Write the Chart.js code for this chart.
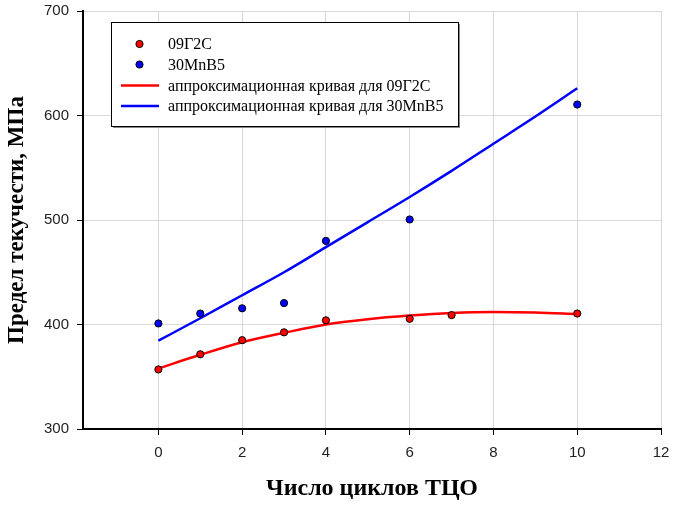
<!DOCTYPE html>
<html>
<head>
<meta charset="utf-8">
<script src="https://cdn.jsdelivr.net/npm/chart.js@4"></script>
<style>
html,body{margin:0;padding:0;background:#fff;}
canvas{display:block;}
</style>
</head>
<body>
<canvas id="c" width="673" height="506"></canvas>
<script>
// Measured points
const cyclesRed = [0, 1, 2, 3, 4, 6, 7, 10];
const stressRed = [357, 371.5, 385, 392.5, 404, 405.5, 409, 410.5];
const cyclesBlue = [0, 1, 2, 3, 4, 6, 10];
const stressBlue = [401, 410.5, 415.5, 420.5, 480, 500.5, 610.5];
// Approximation curves
const fitX = [0, 1, 2, 3, 4, 5, 6, 7, 8, 9, 10];
const fitRed = [358, 371, 383, 392, 400, 405, 408.5, 411, 412, 411.5, 410];
const fitBlue = [384.5, 406, 428, 450, 474, 498, 522, 547, 573, 599, 626];
// Axis ticks
const xTicks = [0, 2, 4, 6, 8, 10, 12];
const yTicks = [300, 400, 500, 600, 700];

const labels = ['09Г2С', '30MnB5', 'аппроксимационная кривая для 09Г2С', 'аппроксимационная кривая для 30MnB5'];
const xTitle = 'Число циклов ТЦО';
const yTitle = 'Предел текучести, МПа';

const toXY = (xs, ys) => xs.map((x, i) => ({x: x, y: ys[i]}));

const legendPlugin = {
  id: 'boxLegend',
  afterDraw(chart) {
    const ctx = chart.ctx;
    const L = 111, T = 22, R = 458, B = 126;
    ctx.save();
    ctx.fillStyle = '#888';
    ctx.fillRect(L + 2, T + 2, R - L, B - T);
    ctx.fillStyle = '#fff';
    ctx.fillRect(L, T, R - L, B - T);
    ctx.strokeStyle = '#000';
    ctx.lineWidth = 1;
    ctx.strokeRect(L + 0.5, T + 0.5, R - L, B - T);
    const rows = [44, 64.5, 85.5, 106];
    ctx.font = '16px "Liberation Serif", "Times New Roman", serif';
    ctx.textBaseline = 'middle';
    chart.data.datasets.forEach((ds, i) => {
      const y = rows[i];
      if (ds.showLine) {
        ctx.strokeStyle = ds.borderColor;
        ctx.lineWidth = 2.5;
        ctx.beginPath();
        ctx.moveTo(121, y);
        ctx.lineTo(159, y);
        ctx.stroke();
      } else {
        ctx.fillStyle = ds.backgroundColor;
        ctx.strokeStyle = '#000';
        ctx.lineWidth = 1;
        ctx.beginPath();
        ctx.arc(139.5, y, 3.6, 0, Math.PI * 2);
        ctx.fill();
        ctx.stroke();
      }
      ctx.fillStyle = '#000';
      ctx.fillText(ds.label, 168, y + 1);
    });
    ctx.restore();
  }
};

new Chart(document.getElementById('c'), {
  type: 'scatter',
  data: {
    datasets: [
      {label: labels[0], data: toXY(cyclesRed, stressRed), backgroundColor: '#ff0000', borderColor: '#000', borderWidth: 1, pointRadius: 3.6, showLine: false},
      {label: labels[1], data: toXY(cyclesBlue, stressBlue), backgroundColor: '#0000ff', borderColor: '#000', borderWidth: 1, pointRadius: 3.6, showLine: false},
      {label: labels[2], data: toXY(fitX, fitRed), borderColor: '#ff0000', backgroundColor: '#ff0000', borderWidth: 2.5, pointRadius: 0, showLine: true, tension: 0.4, cubicInterpolationMode: 'monotone'},
      {label: labels[3], data: toXY(fitX, fitBlue), borderColor: '#0000ff', backgroundColor: '#0000ff', borderWidth: 2.5, pointRadius: 0, showLine: true, tension: 0.4, cubicInterpolationMode: 'monotone'}
    ]
  },
  options: {
    responsive: false,
    animation: false,
    layout: {padding: {top: 11, right: 12, left: 0, bottom: 0}},
    plugins: {legend: {display: false}, tooltip: {enabled: false}},
    scales: {
      x: {
        type: 'linear', min: -1.8, max: 12,
        afterBuildTicks: s => { s.ticks = xTicks.map(v => ({value: v})); },
        afterFit: s => { s.height = 77; s.paddingLeft = 0; s.paddingRight = 0; },
        grid: {color: '#d9d9d9', lineWidth: 1, tickColor: '#000', tickLength: 6, tickWidth: 1},
        border: {color: '#000', width: 2},
        ticks: {color: '#222', padding: 9, font: {family: '"Liberation Sans", Arial, sans-serif', size: 15}, maxRotation: 0},
        title: {display: true, text: xTitle, color: '#000', padding: {top: 0, bottom: 3}, font: {family: '"Liberation Serif", "Times New Roman", serif', size: 24, weight: 'bold', lineHeight: 1.2}}
      },
      y: {
        min: 300, max: 700,
        afterBuildTicks: s => { s.ticks = yTicks.map(v => ({value: v})); },
        afterFit: s => { s.width = 83; s.paddingTop = 0; s.paddingBottom = 0; },
        grid: {color: '#d9d9d9', lineWidth: 1, tickColor: '#000', tickLength: 6, tickWidth: 1},
        border: {color: '#000', width: 2},
        ticks: {color: '#222', padding: 8, font: {family: '"Liberation Sans", Arial, sans-serif', size: 15}},
        title: {display: true, text: yTitle, color: '#000', padding: {top: 3, bottom: 0}, font: {family: '"Liberation Serif", "Times New Roman", serif', size: 23, weight: 'bold', lineHeight: 1.2}}
      }
    }
  },
  plugins: [legendPlugin]
});
</script>
</body>
</html>
